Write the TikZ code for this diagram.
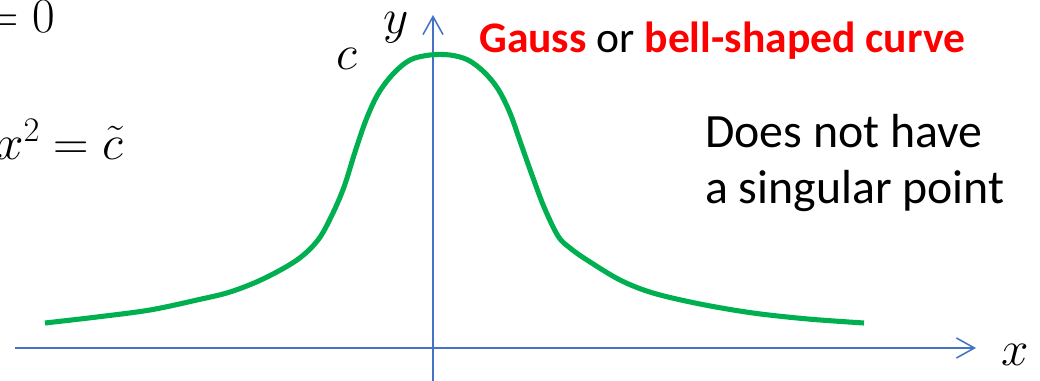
\RequirePackage{fix-cm}
\documentclass[tikz,border=0pt]{standalone}
\usepackage[no-math]{fontspec}
\setmainfont{Carlito}
\usepackage{xcolor}
\usepackage{tikz}
\usetikzlibrary{arrows.meta}
\definecolor{axblue}{HTML}{4472C4}
\definecolor{bellgreen}{HTML}{00B050}
\definecolor{hotred}{HTML}{FF0000}
\tikzset{
  axline/.style ={draw=axblue, line width=1.1pt, -{Straight Barb[length=4.5mm, width=5mm]}},
  bell/.style   ={draw=bellgreen, line width=3.6pt},
  mlbl/.style   ={inner sep=0pt, font=\fontsize{35}{42}\selectfont},
  txt/.style    ={inner sep=0pt, font=\fontsize{31}{39}\selectfont},
  note/.style   ={inner sep=0pt, font=\fontsize{34}{41}\selectfont},
}

\begin{document}
\begin{tikzpicture}[x=0.025cm, y=-0.025cm]
  \useasboundingbox (0,0) rectangle (1040,381);
  \clip (0,0) rectangle (1040,381);
  % axes
  \draw[axline] (15,348) -- (976,348);
  \draw[axline] (433,381) -- (433,15);
  % bell curve
  \draw[bell] plot[smooth, tension=0.55] coordinates {
    (45,323) (97,317) (150,310) (197,300) (230,292) (263,279) (297,260)
    (318,240) (332,215) (344,187) (355,152) (366,120) (378,94) (393,74)
    (410,60) (430,55) (450,55) (468,60) (484,72) (498,89) (510,113)
    (521,144) (532,175) (544,207) (558,236) (570,248) (587,260) (620,280)
    (653,293) (700,304) (753,313) (808,319) (864,323)};
  % labels
  \node[mlbl, anchor=base] (xlab) at (1015,365) {$x$};
  \node[mlbl, anchor=base] (ylab) at (396,34)   {$y$};
  \node[mlbl, anchor=base] (clab) at (347,70)   {$c$};
  \node[mlbl, anchor=base east] (eq1) at (55,33)   {$=0$};
  \node[mlbl, anchor=base east] (eq2) at (124,159) {$x^2=\tilde{c}$};
  \node[txt, anchor=base west] (title) at (479,53)
    {\textcolor{hotred}{\bfseries Gauss} or \textcolor{hotred}{\bfseries bell-shaped curve}};
  \node[note, anchor=base west] (note1) at (705,148) {Does not have};
  \node[note, anchor=base west] (note2) at (705,203) {a singular point};
\end{tikzpicture}
\end{document}
